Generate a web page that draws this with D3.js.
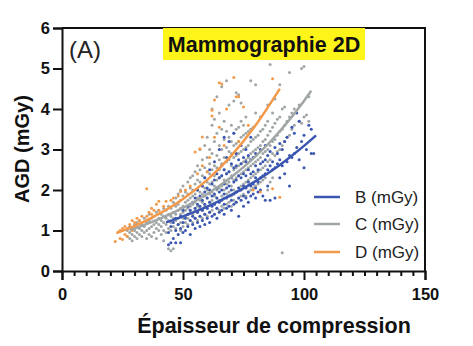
<!DOCTYPE html>
<html><head><meta charset="utf-8">
<script src="https://cdn.jsdelivr.net/npm/d3@7"></script>
<style>html,body{margin:0;padding:0;background:#fff;}svg{display:block;font-family:"Liberation Sans",Arial,sans-serif;}</style>
</head><body>
<script>
// ---------- data ----------
const xTicks = [0, 50, 100, 150];
const yTicks = [0, 1, 2, 3, 4, 5, 6];
const seriesNames = ["B (mGy)", "C (mGy)", "D (mGy)"];
const seriesColors = ["#3a56b0", "#a0a6a6", "#f39a4a"];

// scatter: [thickness, AGD]
const pointsC = [
[27,0.85],[27,1.0],[28,0.8],[28,0.95],[28,1.1],[29,0.75],[29,0.9],[29,1.05],[30,0.85],[30,1.0],[30,1.15],
[31,0.8],[31,0.95],[31,1.1],[31,1.2],[32,0.9],[32,1.05],[32,1.25],[33,0.85],[33,1.0],[33,1.15],
[34,0.95],[34,1.1],[34,1.3],[35,0.8],[35,1.0],[35,1.2],[36,0.9],[36,1.05],[36,1.25],[36,1.4],
[37,0.85],[37,1.1],[37,1.3],[38,0.95],[38,1.15],[38,1.35],[39,0.8],[39,1.05],[39,1.2],[39,1.45],
[40,1.0],[40,1.15],[40,1.3],[40,1.5],[41,0.9],[41,1.1],[41,1.25],[41,1.4],[42,0.75],[42,1.0],[42,1.2],[42,1.35],[42,1.55],
[43,0.95],[43,1.15],[43,1.3],[43,1.5],[44,0.55],[44,1.05],[44,1.25],[44,1.4],[44,1.6],
[45,0.5],[45,1.0],[45,1.2],[45,1.35],[45,1.55],[46,0.55],[46,1.1],[46,1.3],[46,1.45],[46,1.7],
[47,1.05],[47,1.25],[47,1.4],[47,1.6],[47,1.8],[48,1.15],[48,1.3],[48,1.5],[48,1.65],[48,1.9],
[49,1.0],[49,1.2],[49,1.4],[49,1.55],[49,1.75],[49,2.0],[50,1.1],[50,1.3],[50,1.45],[50,1.6],[50,1.85],[50,2.1],
[51,1.2],[51,1.35],[51,1.5],[51,1.7],[51,1.95],[52,1.15],[52,1.3],[52,1.55],[52,1.75],[52,1.9],[52,2.2],
[53,1.25],[53,1.45],[53,1.6],[53,1.8],[53,2.05],[53,2.3],[54,1.2],[54,1.4],[54,1.65],[54,1.85],[54,2.0],[54,2.35],
[55,1.3],[55,1.5],[55,1.7],[55,1.9],[55,2.15],[55,2.45],[56,1.25],[56,1.45],[56,1.6],[56,1.8],[56,2.0],[56,2.25],[56,2.6],
[57,1.35],[57,1.55],[57,1.75],[57,1.95],[57,2.2],[57,2.5],[57,3.0],[58,1.3],[58,1.5],[58,1.7],[58,1.9],[58,2.1],[58,2.35],[58,2.75],
[59,1.4],[59,1.6],[59,1.85],[59,2.05],[59,2.3],[59,2.55],[59,3.1],[60,1.35],[60,1.55],[60,1.8],[60,2.0],[60,2.2],[60,2.45],[60,2.8],[60,3.3],
[61,1.45],[61,1.7],[61,1.9],[61,2.15],[61,2.4],[61,2.65],[61,3.0],[62,1.5],[62,1.75],[62,1.95],[62,2.2],[62,2.5],[62,2.9],[62,3.6],[62,4.0],
[63,1.4],[63,1.65],[63,1.85],[63,2.1],[63,2.35],[63,2.6],[63,3.2],[63,3.75],[64,1.55],[64,1.8],[64,2.0],[64,2.25],[64,2.55],[64,2.85],[64,3.4],[64,4.3],
[65,1.5],[65,1.75],[65,2.05],[65,2.3],[65,2.5],[65,2.75],[65,3.1],[65,3.9],[66,1.6],[66,1.85],[66,2.1],[66,2.35],[66,2.65],[66,3.0],[66,3.5],[66,4.55],
[67,1.55],[67,1.8],[67,2.0],[67,2.25],[67,2.5],[67,2.8],[67,3.25],[67,3.7],[68,1.65],[68,1.9],[68,2.15],[68,2.4],[68,2.7],[68,3.05],[68,3.45],[68,4.7],
[69,1.7],[69,1.95],[69,2.2],[69,2.45],[69,2.75],[69,2.95],[69,3.3],[69,4.1],[70,1.6],[70,1.85],[70,2.1],[70,2.35],[70,2.6],[70,2.9],[70,3.2],[70,3.6],
[71,1.75],[71,2.0],[71,2.25],[71,2.5],[71,2.8],[71,3.1],[71,3.4],[71,4.2],[72,1.7],[72,1.95],[72,2.3],[72,2.55],[72,2.85],[72,3.15],[72,3.5],[72,4.4],
[73,1.8],[73,2.05],[73,2.35],[73,2.6],[73,2.9],[73,3.2],[73,3.55],[73,4.35],[74,1.85],[74,2.1],[74,2.4],[74,2.65],[74,2.95],[74,3.3],[74,3.7],[74,4.15],
[75,1.9],[75,2.15],[75,2.45],[75,2.7],[75,3.0],[75,3.35],[75,3.6],[76,1.85],[76,2.2],[76,2.5],[76,2.75],[76,3.05],[76,3.4],[76,3.8],
[77,1.95],[77,2.25],[77,2.55],[77,2.8],[77,3.1],[77,3.45],[78,2.0],[78,2.3],[78,2.6],[78,2.9],[78,3.2],[78,3.5],[78,4.7],
[79,2.05],[79,2.35],[79,2.65],[79,2.95],[79,3.25],[79,3.55],[80,2.1],[80,2.4],[80,2.7],[80,3.0],[80,3.3],[80,3.9],[80,4.6],
[81,2.15],[81,2.45],[81,2.75],[81,3.05],[81,3.35],[82,2.2],[82,2.5],[82,2.8],[82,3.1],[82,3.45],[82,3.8],
[83,2.25],[83,2.55],[83,2.9],[83,3.2],[83,3.5],[84,2.3],[84,2.6],[84,2.95],[84,3.25],[84,3.6],
[85,2.0],[85,2.7],[85,3.0],[85,3.35],[85,3.7],[85,4.1],[86,2.2],[86,2.75],[86,3.1],[86,3.45],[86,5.1],
[87,2.3],[87,2.9],[87,3.2],[87,3.55],[87,3.9],[88,2.85],[88,3.25],[88,3.65],[88,4.25],[89,2.95],[89,3.35],[89,3.75],
[90,3.0],[90,3.45],[90,3.8],[90,4.6],[91,0.45],[91,3.1],[91,3.5],[91,4.0],[92,3.2],[92,3.6],[92,4.05],[93,3.3],[93,3.7],
[94,3.35],[94,3.8],[94,4.9],[95,3.5],[95,3.9],[96,3.6],[96,4.0],[98,3.7],[98,4.1],[99,3.65],[99,5.0],[100,3.8],[100,5.05],[101,3.85],[102,3.7],[102,4.3]
];
const pointsB = [
[44,0.65],[44,0.95],[45,0.7],[45,1.1],[46,0.8],[46,1.2],[47,0.7],[47,1.0],[47,1.3],[48,0.9],[48,1.15],[49,0.7],[49,1.05],[49,1.35],
[50,0.95],[50,1.2],[50,1.5],[51,1.0],[51,1.3],[52,1.1],[52,1.4],[52,1.6],[53,0.9],[53,1.25],[53,1.5],[54,1.15],[54,1.35],[54,1.7],
[55,1.05],[55,1.3],[55,1.55],[55,1.8],[56,1.2],[56,1.45],[56,1.65],[56,2.0],[57,1.1],[57,1.35],[57,1.6],[57,1.85],
[58,1.25],[58,1.5],[58,1.75],[58,2.1],[59,1.15],[59,1.4],[59,1.65],[59,1.95],[59,2.3],[60,1.3],[60,1.55],[60,1.8],[60,2.05],
[61,1.2],[61,1.45],[61,1.7],[61,2.0],[61,2.5],[62,1.35],[62,1.6],[62,1.85],[62,2.15],[63,1.4],[63,1.65],[63,1.9],[63,2.25],[63,2.7],
[64,1.3],[64,1.55],[64,1.8],[64,2.05],[64,2.4],[65,1.45],[65,1.7],[65,1.95],[65,2.3],[65,3.0],[66,1.5],[66,1.75],[66,2.0],[66,2.35],[66,2.6],
[67,1.4],[67,1.65],[67,1.9],[67,2.15],[67,2.5],[67,3.3],[68,1.55],[68,1.8],[68,2.05],[68,2.4],[68,2.8],[69,1.6],[69,1.85],[69,2.1],[69,2.45],[69,3.2],
[70,1.5],[70,1.75],[70,2.0],[70,2.3],[70,2.65],[71,1.65],[71,1.9],[71,2.2],[71,2.55],[71,3.4],[72,1.7],[72,1.95],[72,2.25],[72,2.6],[72,2.9],
[73,1.35],[73,1.8],[73,2.05],[73,2.35],[73,2.75],[74,1.75],[74,2.0],[74,2.3],[74,2.65],[74,3.1],[75,1.6],[75,1.85],[75,2.1],[75,2.4],[75,2.8],
[76,1.8],[76,2.05],[76,2.35],[76,2.7],[76,3.0],[77,1.7],[77,1.95],[77,2.2],[77,2.5],[77,2.85],[78,1.85],[78,2.1],[78,2.4],[78,2.75],[78,3.3],
[79,1.9],[79,2.15],[79,2.45],[79,2.8],[80,1.8],[80,2.05],[80,2.3],[80,2.6],[80,2.9],[81,1.95],[81,2.2],[81,2.5],[82,2.0],[82,2.3],[82,2.65],[82,3.0],
[83,1.85],[83,2.35],[83,2.7],[84,1.75],[84,2.4],[84,2.75],[84,3.1],[85,2.1],[85,2.5],[85,2.85],[86,1.75],[86,2.6],[86,2.95],[87,2.5],[87,2.7],
[88,1.8],[88,2.55],[88,3.05],[89,2.65],[89,2.9],[90,2.3],[90,2.75],[90,3.15],[91,2.6],[91,3.0],[92,2.4],[92,3.2],[93,2.7],[93,3.3],
[94,2.1],[94,2.85],[95,2.8],[95,3.55],[96,2.9],[96,3.4],[97,3.9],[97,3.05],[98,3.7],[98,2.75],[99,3.2],[100,2.55],[100,3.35],[101,3.0],
[102,3.6],[103,3.5],[103,2.9],[104,2.9]
];
const pointsD = [
[22,0.73],[23,0.95],[24,0.8],[24,1.0],[25,0.78],[25,1.05],[26,0.9],[26,1.1],[27,1.05],[27,0.85],[28,1.15],[29,1.0],[29,1.25],
[30,1.2],[31,1.15],[31,1.3],[32,1.25],[33,1.35],[35,2.03],[35,1.35],[36,1.45],[37,1.4],[37,1.55],[38,1.5],[39,1.65],[40,1.5],[40,1.72],
[42,1.6],[43,1.72],[45,1.75],[46,1.8],[48,1.85],[49,1.96],[51,2.0],[53,2.1],[55,2.94],[56,2.4],[57,3.02],[58,3.31],[58,2.6],
[60,2.45],[61,2.8],[62,3.97],[62,3.83],[63,4.22],[63,3.3],[65,4.65],[65,3.55],[66,4.62],[67,3.1],[68,4.0],[71,4.78],[72,4.3],
[73,4.3],[73,3.2],[75,4.05],[77,3.6],[79,2.0],[82,1.95],[87,4.75],[87,2.03],[90,1.82]
];

// fitted curves
const fitBx = [43, 50, 60, 70, 80, 90, 100, 105];
const fitBy = [1.20, 1.35, 1.59, 1.88, 2.22, 2.62, 3.09, 3.35];
const fitCx = [28, 30, 40, 50, 60, 70, 80, 90, 100, 103];
const fitCy = [1.01, 1.05, 1.28, 1.56, 1.90, 2.32, 2.83, 3.45, 4.20, 4.45];
const fitDx = [23, 30, 40, 50, 60, 70, 80, 90];
const fitDy = [0.95, 1.11, 1.41, 1.78, 2.25, 2.85, 3.60, 4.50];

// ---------- drawing ----------
const W = 473, H = 346;
const L = 62, R = 425, T = 28, B = 271;
const svg = d3.select("body").append("svg").attr("width", W).attr("height", H);
const x = d3.scaleLinear().domain([0, 150]).range([L, R]);
const y = d3.scaleLinear().domain([0, 6]).range([B, T]);

// frame (top and right)
svg.append("path").attr("d", `M${L},${T}H${R}V${B}`).attr("fill", "none").attr("stroke", "#111").attr("stroke-width", 2);

// title box
const tb = svg.append("g");
tb.append("rect").attr("x", 163).attr("y", T).attr("width", 202).attr("height", 32).attr("fill", "#fdf51a");
tb.append("text").attr("x", 264).attr("y", 52).attr("text-anchor", "middle").attr("font-size", 21.5).attr("font-weight", "bold").attr("fill", "#111").text("Mammographie 2D");
svg.append("text").attr("x", 69).attr("y", 58).attr("font-size", 24).attr("fill", "#222").text("(A)");

// scatter
const groups = [[pointsC, 1], [pointsB, 0], [pointsD, 2]];
groups.forEach(([pts, i]) => {
  svg.append("g").selectAll("circle").data(pts).join("circle")
    .attr("cx", d => x(d[0])).attr("cy", d => y(d[1])).attr("r", 1.5)
    .attr("fill", seriesColors[i]);
});

// fit lines
const line = d3.line().x(d => x(d[0])).y(d => y(d[1])).curve(d3.curveMonotoneX);
[[fitCx, fitCy, 1], [fitBx, fitBy, 0], [fitDx, fitDy, 2]].forEach(([xs, ys, i]) => {
  svg.append("path").datum(xs.map((v, k) => [v, ys[k]])).attr("d", line)
    .attr("fill", "none").attr("stroke", seriesColors[i]).attr("stroke-width", 2.5);
});

// axes
const xAxis = svg.append("g").attr("transform", `translate(0,${B})`)
  .call(d3.axisBottom(x).tickValues(xTicks).tickSize(9).tickPadding(8).tickFormat(d3.format("d")));
const xMinor = svg.append("g").attr("transform", `translate(0,${B})`)
  .call(d3.axisBottom(x).tickValues(d3.range(0, 151, 5).filter(v => v % 50 !== 0)).tickSize(5).tickFormat(""));
const yAxis = svg.append("g").attr("transform", `translate(${L},0)`)
  .call(d3.axisLeft(y).tickValues(yTicks).tickSize(9).tickPadding(3).tickFormat(d3.format("d")));
[xAxis, xMinor, yAxis].forEach(g => {
  g.select(".domain").attr("stroke", "#111").attr("stroke-width", 2);
  g.selectAll(".tick line").attr("stroke", "#111").attr("stroke-width", 2);
  g.selectAll("text").attr("font-size", 16.5).attr("font-weight", "bold").attr("fill", "#111")
    .attr("font-family", "Liberation Sans, Arial, sans-serif");
});
xMinor.select(".domain").remove();

// axis titles
svg.append("text").attr("x", 274).attr("y", 333).attr("text-anchor", "middle")
  .attr("font-size", 21.5).attr("font-weight", "bold").attr("fill", "#111").text("Épaisseur de compression");
svg.append("text").attr("transform", "translate(29,149) rotate(-90)").attr("text-anchor", "middle")
  .attr("font-size", 20).attr("font-weight", "bold").attr("fill", "#111").text("AGD (mGy)");

// legend
const legY = [197, 224, 252];
seriesNames.forEach((n, i) => {
  svg.append("line").attr("x1", 314).attr("x2", 340).attr("y1", legY[i]).attr("y2", legY[i])
    .attr("stroke", seriesColors[i]).attr("stroke-width", 2.5);
  svg.append("text").attr("x", 355).attr("y", legY[i] + 6).attr("font-size", 17).attr("fill", "#222").text(n);
});
</script>
</body></html>
